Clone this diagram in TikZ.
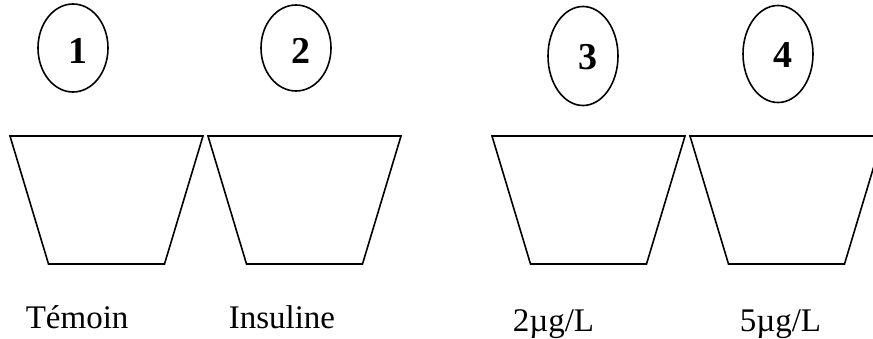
\documentclass[tikz,border=0pt]{standalone}
\usepackage{fontspec}
\setmainfont{Liberation Serif}
\usetikzlibrary{shapes.geometric}
\begin{document}
\begin{tikzpicture}[x=1pt, y=-1pt, line width=1.6pt,
  tag/.style={draw, ellipse, inner sep=0pt, minimum width=70pt},
  num/.style={font=\fontsize{38}{42}\selectfont\bfseries, inner sep=0pt},
  lbl/.style={font=\fontsize{33}{38}\selectfont, inner sep=0pt, anchor=base west},
  cupshape/.style={draw, line join=miter}]
\useasboundingbox (0,0) rectangle (873,339);
\clip (0,0) rectangle (873,339);

% numbered ellipses
\node[tag, minimum height=88pt] (e1) at (73,48) {};
\node[tag, minimum height=86pt] (e2) at (296,48) {};
\node[tag, minimum height=99pt] (e3) at (583,56) {};
\node[tag, minimum height=97pt] (e4) at (778,54) {};
\node[num] (n1) at ([shift={(5,3)}]e1.center) {1};
\node[num] (n2) at ([shift={(5,3)}]e2.center) {2};
\node[num] (n3) at ([shift={(5,1)}]e3.center) {3};
\node[num] (n4) at ([shift={(5,1)}]e4.center) {4};

% cups (inverted trapezoids)
\foreach \i/\x in {1/10, 2/208, 3/492, 4/690}{
  \draw[cupshape] (\x,136) coordinate (c\i) -- ++(193,0) -- ++(-38.5,128)
    -- ++(-116,0) -- cycle;
}

% captions
\node[lbl] (l1) at (25,328) {Témoin};
\node[lbl] (l2) at (228,328) {Insuline};
\node[lbl] (l3) at (512,331) {2µg/L};
\node[lbl] (l4) at (739,331) {5µg/L};
\end{tikzpicture}
\end{document}
